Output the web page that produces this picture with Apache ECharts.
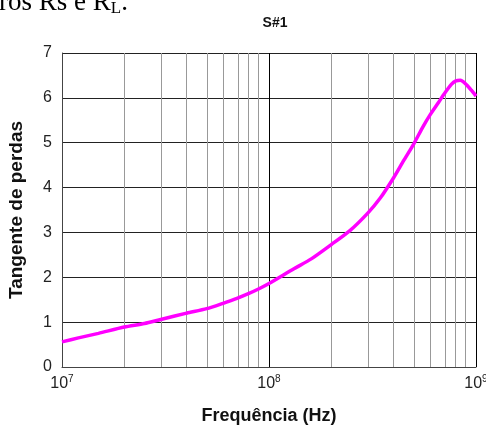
<!DOCTYPE html>
<html>
<head>
<meta charset="utf-8">
<script src="https://cdn.jsdelivr.net/npm/echarts@6/dist/echarts.min.js"></script>
<style>
  html, body { margin: 0; padding: 0; background: #fff; }
  #chart { width: 486px; height: 425px; }
</style>
</head>
<body>
<div id="chart"></div>
<script>
// frequências (Hz) e tangente de perdas
const freqs = [1e7, 1.2e7, 1.5e7, 2e7, 2.5e7, 3e7, 4e7, 5e7, 6e7, 7e7, 8e7, 9e7,
  1e8, 1.32e8, 1.6e8, 2e8, 2.46e8, 3e8, 3.44e8, 4e8, 4.47e8, 5e8, 5.55e8, 6e8,
  6.6e8, 7e8, 7.6e8, 8e8, 8.4e8, 9e8, 9.5e8, 1e9]
const tangente = [0.56, 0.65, 0.75, 0.89, 0.97, 1.06, 1.2, 1.3, 1.42, 1.53, 1.64, 1.75,
  1.86, 2.19, 2.41, 2.73, 3.04, 3.43, 3.76, 4.22, 4.6, 4.97, 5.36, 5.62,
  5.9, 6.08, 6.3, 6.38, 6.39, 6.29, 6.17, 6.04]

// linhas de grade menores (2..9 em cada década)
const minorFreqs = [2e7, 3e7, 4e7, 5e7, 6e7, 7e7, 8e7, 9e7,
  2e8, 3e8, 4e8, 5e8, 6e8, 7e8, 8e8, 9e8]

const chart = echarts.init(document.getElementById('chart'))

const option = {
  animation: false,
  title: {
    text: 'S#1',
    left: 270,
    top: 11,
    textAlign: 'center',
    textStyle: { fontFamily: 'Liberation Sans', fontSize: 14, fontWeight: 'bold', color: '#111' }
  },
  graphic: [{
    type: 'text',
    left: -1,
    top: -11,
    style: {
      text: '{a|ros Rs e R}{s|L}{a|.}',
      rich: {
        a: { fontFamily: 'Liberation Serif', fontSize: 27, fill: '#000' },
        s: { fontFamily: 'Liberation Serif', fontSize: 17, fill: '#000', padding: [12, 0, 0, 0] }
      }
    }
  }],
  grid: { left: 62, right: 10, top: 53, bottom: 58, outerBoundsMode: 'none' },
  xAxis: {
    type: 'value',
    min: 7,
    max: 9,
    interval: 1,
    name: 'Frequência (Hz)',
    nameLocation: 'middle',
    nameGap: 40,
    nameTextStyle: { fontFamily: 'Liberation Sans', fontSize: 18, fontWeight: 'bold', color: '#111' },
    axisLine: { lineStyle: { color: '#444', width: 1 } },
    axisTick: { show: false },
    axisLabel: {
      margin: 7,
      formatter: (v) => '{b|10}{s|' + v + '}',
      rich: {
        b: { fontFamily: 'Liberation Sans', fontSize: 16, color: '#222' },
        s: { fontFamily: 'Liberation Sans', fontSize: 10, color: '#222', padding: [0, 0, 9, 0] }
      }
    },
    splitLine: { show: true, lineStyle: { color: '#000', width: 1 } }
  },
  yAxis: {
    type: 'value',
    min: 0,
    max: 7,
    interval: 1,
    name: 'Tangente de perdas',
    nameLocation: 'middle',
    nameGap: 36,
    nameTextStyle: { fontFamily: 'Liberation Sans', fontSize: 19, fontWeight: 'bold', color: '#111' },
    axisLine: { show: true, lineStyle: { color: '#444', width: 1 } },
    axisTick: { show: false },
    axisLabel: { margin: 10, fontFamily: 'Liberation Sans', fontSize: 16, color: '#222' },
    splitLine: { show: true, lineStyle: { color: '#222', width: 1 } }
  },
  series: [{
    type: 'line',
    data: freqs.map((f, i) => [Math.log10(f), tangente[i]]),
    showSymbol: false,
    smooth: 0.25,
    lineStyle: { color: '#ff00ff', width: 3.5 },
    z: 5,
    markLine: {
      silent: true,
      symbol: 'none',
      label: { show: false },
      lineStyle: { color: '#999', type: 'solid', width: 1 },
      data: minorFreqs.map(f => ({ xAxis: Math.log10(f) }))
    }
  }]
}

chart.setOption(option)
</script>
</body>
</html>
